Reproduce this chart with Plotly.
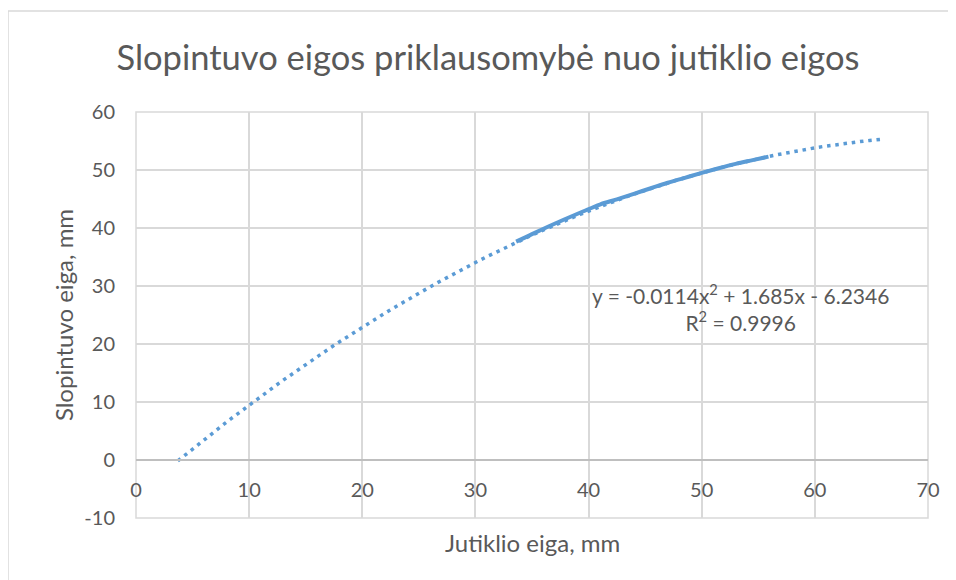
import plotly.graph_objects as go

# Measured data (solid series)
x_data = [33.6, 35.0, 36.5, 38.0, 39.5, 41.0, 42.5, 44.0, 45.5, 47.0, 48.5, 50.0, 51.5, 53.0, 54.5, 55.9]
y_data = [37.65, 38.95, 40.3, 41.6, 42.85, 44.05, 44.95, 45.9, 46.85, 47.8, 48.65, 49.5, 50.3, 51.05, 51.7, 52.3]

# Polynomial trendline as shown on the chart
coef_a = -0.0114
coef_b = 1.685
coef_c = -6.2346
trend_x_start = 3.7
trend_x_end = 65.9
n_trend = 120
trend_x = [trend_x_start + (trend_x_end - trend_x_start) * i / (n_trend - 1) for i in range(n_trend)]
trend_y = [coef_a * x * x + coef_b * x + coef_c for x in trend_x]

title_text = "Slopintuvo eigos priklausomybė nuo jutiklio eigos"
x_title = "Jutiklio eiga, mm"
y_title = "Slopintuvo eiga, mm"
eq_text = "y = -0.0114x<sup>2</sup> + 1.685x - 6.2346<br>R<sup>2</sup> = 0.9996"

x_ticks = [0, 10, 20, 30, 40, 50, 60, 70]
x_tick_labels = ["0", "10", "20", "30", "40", "50", "60", "70"]
y_ticks = [-10, 0, 10, 20, 30, 40, 50, 60]
y_tick_labels = ["-10", "0", "10", "20", "30", "40", "50", "60"]

blue = "#5B9BD5"
txt = "#595959"
grid = "#D9D9D9"
font_fam = "Lato, 'Open Sans', sans-serif"

# page offset of the rendered figure (browser body margin)
off = 8
pl, pr, pt, pb = 136, 928, 112, 518  # plot area in screen pixels
pw, ph = pr - pl, pb - pt

fig = go.Figure()
fig.add_trace(go.Scatter(x=trend_x, y=trend_y, mode="lines",
                         line=dict(color=blue, width=3.5, dash="3.5px,4.8px"),
                         hoverinfo="skip", showlegend=False))
fig.add_trace(go.Scatter(x=x_data, y=y_data, mode="lines",
                         line=dict(color=blue, width=4, shape="spline"),
                         showlegend=False))

fig.update_layout(
    width=956, height=580,
    margin=dict(l=pl - off, r=956 - (pr - off), t=pt - off, b=580 - (pb - off)),
    paper_bgcolor="white", plot_bgcolor="white",
    font=dict(family=font_fam, color=txt, size=20),
    title=dict(text=title_text, x=(488 - off) / 956, xanchor="center",
               y=1 - (58 - off) / 580, yanchor="middle",
               font=dict(size=34.5, color=txt, family=font_fam)),
    xaxis=dict(range=[0, 70], tickvals=x_ticks, ticktext=x_tick_labels,
               showgrid=True, gridcolor=grid,
               gridwidth=1.5, zeroline=False, showline=True, linecolor="#BFBFBF",
               linewidth=1.5, anchor="free", position=1 / 7, ticks="",
               ticklabelstandoff=12,
               tickfont=dict(size=20, color=txt)),
    yaxis=dict(range=[-10, 60], tickvals=y_ticks, ticktext=y_tick_labels,
               showgrid=True, gridcolor=grid,
               gridwidth=1.5, zeroline=False, showline=False, ticks="",
               ticklabelstandoff=20,
               tickfont=dict(size=20, color=txt),
               title=dict(text=y_title, font=dict(size=24, color=txt), standoff=3)),
    shapes=[
        dict(type="rect", xref="paper", yref="paper", x0=0, x1=1, y0=0, y1=1,
             line=dict(color=grid, width=1.5), layer="below"),
        dict(type="rect", xref="paper", yref="paper", x0=(8 - pl) / pw, x1=1.2,
             y0=-0.3, y1=(pb - 11) / ph, line=dict(color=grid, width=1.5), layer="below"),
    ],
    annotations=[
        dict(text=eq_text, xref="paper", yref="paper", x=(740 - pl) / pw,
             y=(pb - 307) / ph, xanchor="center", yanchor="middle", showarrow=False,
             align="center", font=dict(size=21, color=txt)),
        dict(text=x_title, xref="paper", yref="paper", x=0.5, y=(pb - 542) / ph,
             xanchor="center", yanchor="middle", showarrow=False,
             font=dict(size=24, color=txt)),
    ],
)

fig.write_html("out.html")
